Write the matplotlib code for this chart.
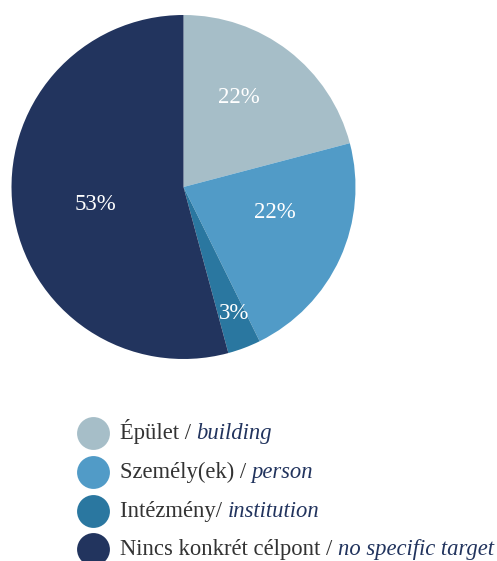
#!/usr/bin/env python

import numpy as np
import matplotlib
matplotlib.use("Agg")
import matplotlib.pyplot as plt

categories_hu = ["Épület", "Személy(ek)", "Intézmény", "Nincs konkrét célpont"]
categories_en = ["building", "person", "institution", "no specific target"]
separators = [" / ", " / ", "/ ", " / "]
shares = [20.9, 21.8, 3.1, 54.2]
pct_labels = ["22%", "22%", "3%", "53%"]
colors = ["#a6bec8", "#519bc7", "#2a77a0", "#22345e"]
label_radius = [0.61, 0.55, 0.79, 0.52]
label_turn = [6, 9, 1, 4]   # degrees, nudges the % labels off the wedge middle


def main():
    plt.rcParams["font.family"] = ["Liberation Serif", "DejaVu Serif"]
    W, H = 497, 561
    fig = plt.figure(figsize=(W / 100, H / 100), dpi=100)

    # pie: centre (183.5, 187) px, radius 172 px
    cx, cy, r = 183.5, 187, 172
    ax = fig.add_axes([(cx - r) / W, (H - cy - r) / H, 2 * r / W, 2 * r / H])
    wedges, _ = ax.pie(shares, colors=colors, startangle=90, counterclock=False,
                       radius=1, wedgeprops=dict(linewidth=0))
    ax.set_xlim(-1, 1)
    ax.set_ylim(-1, 1)
    for w, lab, rr, dt in zip(wedges, pct_labels, label_radius, label_turn):
        ang = np.deg2rad((w.theta1 + w.theta2) / 2 + dt)
        ax.text(rr * np.cos(ang), rr * np.sin(ang), lab, color="white",
                fontsize=16.5, ha="center", va="center")

    # legend drawn by hand (two-colour labels)
    lax = fig.add_axes([0, 0, 1, 1])
    lax.set_xlim(0, W)
    lax.set_ylim(H, 0)
    lax.axis("off")
    renderer = fig.canvas.get_renderer()
    for i, (hu, sep, en, c) in enumerate(zip(categories_hu, separators, categories_en, colors)):
        y = 433 + i * 38.8
        lax.scatter([93], [y], s=560, color=c, linewidths=0)
        t1 = lax.text(120, y + 6, hu + sep, color="#333333", fontsize=16.3,
                      ha="left", va="baseline")
        bb = t1.get_window_extent(renderer)
        x2 = lax.transData.inverted().transform((bb.x1, 0))[0]
        lax.text(x2, y + 6, en, color="#22345e", fontsize=16.3, style="italic",
                 ha="left", va="baseline")

    fig.savefig("out.png", dpi=100)


if __name__ == '__main__':
    main()
